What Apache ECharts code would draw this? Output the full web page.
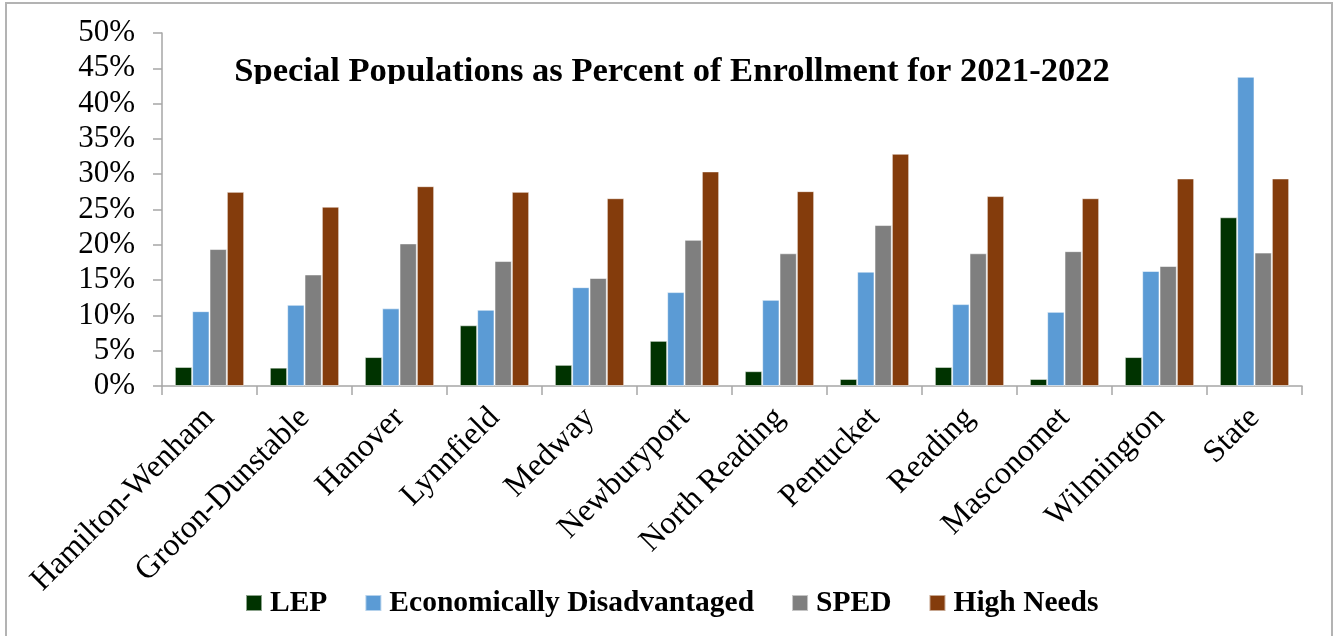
<!DOCTYPE html>
<html>
<head>
<meta charset="utf-8">
<script src="https://cdn.jsdelivr.net/npm/echarts@6/dist/echarts.min.js"></script>
<style>
html,body{margin:0;padding:0;background:#fff;}
#chart{width:1338px;height:636px;}
</style>
</head>
<body>
<div id="chart"></div>
<script>
const titleText = 'Special Populations as Percent of Enrollment for 2021-2022';
const categories = ['Hamilton-Wenham','Groton-Dunstable','Hanover','Lynnfield','Medway','Newburyport','North Reading','Pentucket','Reading','Masconomet','Wilmington','State'];
const seriesNames = ['LEP','Economically Disadvantaged','SPED','High Needs'];
const lep   = [2.7, 2.6, 4.1, 8.6, 3.0, 6.4, 2.1, 1.0, 2.7, 1.0, 4.1, 23.9];
const econ  = [10.6, 11.5, 11.0, 10.8, 14.0, 13.3, 12.2, 16.2, 11.6, 10.5, 16.3, 43.8];
const sped  = [19.4, 15.8, 20.2, 17.7, 15.3, 20.7, 18.8, 22.8, 18.8, 19.1, 17.0, 18.9];
const high  = [27.5, 25.4, 28.3, 27.5, 26.6, 30.4, 27.6, 32.9, 26.9, 26.6, 29.4, 29.4];
const colors = ['#003300','#5b9bd5','#7f7f7f','#843c0c'];

const chart = echarts.init(document.getElementById('chart'), null, {renderer:'canvas'});
const dataSets = [lep, econ, sped, high];
const serif = 'Liberation Serif';
chart.setOption({
  animation:false,
  backgroundColor:'#ffffff',
  color: colors,
  title:{
    text:titleText,
    left:667, top:50, textAlign:'center',
    textStyle:{fontFamily:serif, fontWeight:'bold', fontSize:34.6, color:'#000'}
  },
  legend:{
    left:240, top:583,
    itemWidth:16, itemHeight:16, itemGap:37,
    icon:'rect',
    textStyle:{fontFamily:serif, fontWeight:'bold', fontSize:29.5, color:'#000', padding:[0,0,0,3]},
    data:seriesNames
  },
  grid:{left:162, right:36, top:33, bottom:250, containLabel:false},
  xAxis:{
    type:'category', data:categories,
    axisLine:{lineStyle:{color:'#a6a6a6', width:1.5}},
    axisTick:{show:true, length:9, lineStyle:{color:'#a6a6a6', width:1.5}},
    axisLabel:{rotate:45, margin:27, fontFamily:serif, fontSize:32, color:'#000', interval:0}
  },
  yAxis:{
    type:'value', min:0, max:50, interval:5,
    axisLine:{show:true, lineStyle:{color:'#a6a6a6', width:1.5}},
    axisTick:{show:true, length:9, inside:false, lineStyle:{color:'#a6a6a6', width:1.5}},
    splitLine:{show:false},
    axisLabel:{formatter:'{value}%', margin:27, fontFamily:serif, fontSize:31, color:'#000'}
  },
  series: seriesNames.map((n,i)=>({
    name:n, type:'bar', data:dataSets[i],
    barGap:'0%', barCategoryGap:'27%',
    itemStyle:{color:colors[i], borderColor:'rgba(255,255,255,0.55)', borderWidth:1}
  })),
  graphic:[
    {type:'rect', z:100, silent:true, shape:{x:215, y:84, width:900, height:12}, style:{fill:'#ffffff'}},
    {type:'rect', z:101, silent:true, shape:{x:6, y:3, width:1326, height:660}, style:{fill:'none', stroke:'#b3b3b3', lineWidth:2}}
  ]
});
</script>
</body>
</html>
